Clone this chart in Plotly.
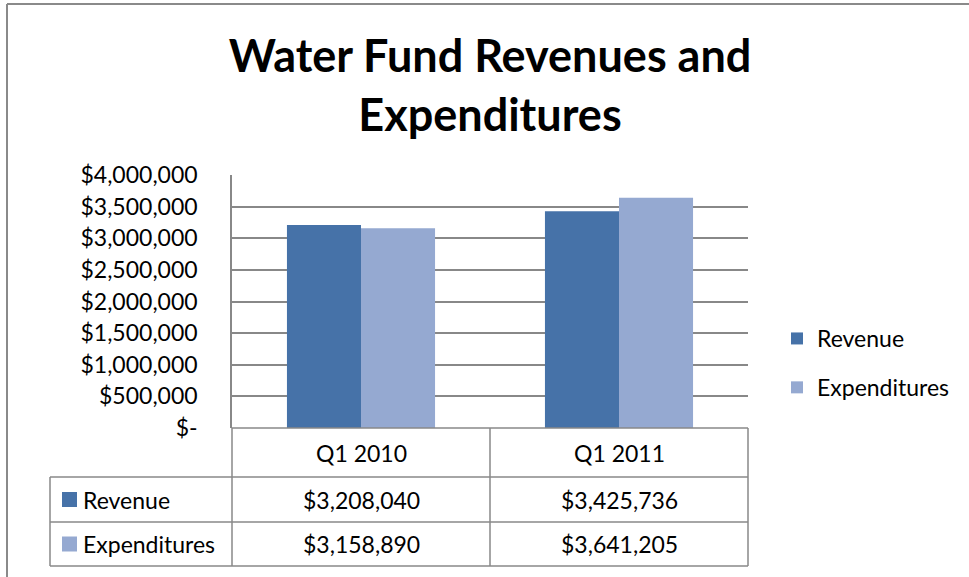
import plotly.graph_objects as go

# data
categories = ["Q1 2010", "Q1 2011"]
series_names = ["Revenue", "Expenditures"]
revenue = [3208040, 3425736]
expenditures = [3158890, 3641205]
tick_vals = [0, 500000, 1000000, 1500000, 2000000, 2500000, 3000000, 3500000, 4000000]
tick_text = ["$-", "$500,000", "$1,000,000", "$1,500,000", "$2,000,000",
             "$2,500,000", "$3,000,000", "$3,500,000", "$4,000,000"]

COLORS = {"Revenue": "#4672A8", "Expenditures": "#95A9D1"}
GRID = "#888888"
FONT = "Lato, 'Open Sans', sans-serif"
FS = 23

W, H = 969, 577
L, R, T, B = 232, 748, 175, 428  # plot area, px


def px(x):
    return (x - L) / (R - L)


def py(y):
    return (B - y) / (B - T)


fig = go.Figure()
for name, vals in zip(series_names, [revenue, expenditures]):
    fig.add_trace(go.Bar(
        x=categories, y=vals, name=name,
        marker=dict(color=COLORS[name], line=dict(width=0)),
        legendgroup=name,
    ))

shapes = []
line = dict(color=GRID, width=1.5)

# outer chart frame (only top and left visible)
shapes.append(dict(type="line", xref="paper", yref="paper",
                   x0=px(7), x1=px(W + 5), y0=py(4), y1=py(4),
                   line=dict(color="#8a8a8a", width=2)))
shapes.append(dict(type="line", xref="paper", yref="paper",
                   x0=px(7), x1=px(7), y0=py(4), y1=py(H + 5),
                   line=dict(color="#8a8a8a", width=2)))

# data table under the plot
n = len(categories)
row_lines = [B, 477, 522, 566]
tbl_left = 50
for i, yy in enumerate(row_lines):
    x0 = 0 if i == 0 else px(tbl_left)
    shapes.append(dict(type="line", xref="paper", yref="paper",
                       x0=x0, x1=1, y0=py(yy), y1=py(yy), line=line))
for b in range(n + 1):
    shapes.append(dict(type="line", xref="paper", yref="paper",
                       x0=b / n, x1=b / n, y0=py(B), y1=py(row_lines[-1]), line=line))
shapes.append(dict(type="line", xref="paper", yref="paper",
                   x0=px(tbl_left), x1=px(tbl_left), y0=py(row_lines[1]),
                   y1=py(row_lines[-1]), line=line))

annotations = []
tfont = dict(family=FONT, size=FS, color="#000000")
head_mid = (row_lines[0] + row_lines[1]) / 2
for c in categories:
    annotations.append(dict(x=c, xref="x", y=py(head_mid), yref="paper",
                            xanchor="center", yanchor="middle",
                            text=c, showarrow=False, font=tfont))
for r, (name, vals) in enumerate(zip(series_names, [revenue, expenditures])):
    mid = (row_lines[r + 1] + row_lines[r + 2]) / 2
    shapes.append(dict(type="rect", xref="paper", yref="paper",
                       x0=px(62), x1=px(77), y0=py(mid - 7.5), y1=py(mid + 7.5),
                       fillcolor=COLORS[name], line=dict(width=0)))
    annotations.append(dict(x=px(81), xref="paper", y=py(mid), yref="paper",
                            xanchor="left", yanchor="middle",
                            text=name, showarrow=False, font=tfont))
    for c, v in zip(categories, vals):
        annotations.append(dict(x=c, xref="x", y=py(mid), yref="paper",
                                xanchor="center", yanchor="middle",
                                text=f"${v:,}", showarrow=False, font=tfont))

fig.update_layout(
    width=W, height=H,
    margin=dict(l=L, r=W - R, t=T, b=H - B),
    paper_bgcolor="white", plot_bgcolor="white",
    font=dict(family=FONT, size=FS, color="#000000"),
    title=dict(text="<b>Water Fund Revenues and<br>Expenditures</b>",
               x=0.5, xref="paper", xanchor="center",
               y=1 - 72 / H, yref="container", yanchor="top",
               font=dict(family=FONT, size=45, color="#000000")),
    barmode="group", bargap=0.426, bargroupgap=0,
    legend=dict(x=px(777), y=py(317), xanchor="left", yanchor="top",
                traceorder="grouped", tracegroupgap=16,
                font=dict(family=FONT, size=FS, color="#000000")),
    shapes=shapes, annotations=annotations,
)
fig.update_xaxes(showticklabels=False, showgrid=False, ticks="", showline=False,
                 range=[-0.5, n - 0.5])
fig.update_yaxes(range=[0, 4000000], tickvals=tick_vals, ticktext=tick_text,
                 showgrid=True, gridcolor=GRID, gridwidth=1.5,
                 showline=True, linecolor=GRID, linewidth=1.5,
                 zeroline=False, ticks="", ticklabelstandoff=28,
                 tickfont=dict(family=FONT, size=FS, color="#000000"))

fig.write_html("out.html", config={"displayModeBar": False},
               post_script="document.body.style.margin='0';")
